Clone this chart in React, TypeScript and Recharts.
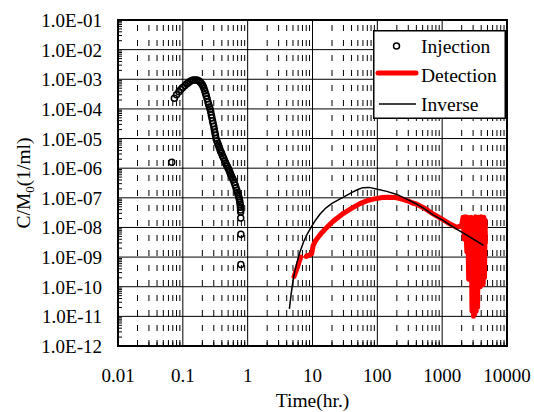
import {
  ComposedChart,
  Legend,
  Line,
  ReferenceArea,
  ReferenceLine,
  Scatter,
  XAxis,
  YAxis,
} from "recharts";

const FONT = '"Liberation Serif", "Times New Roman", Times, serif';

// axes
const xMajor = [0.01, 0.1, 1, 10, 100, 1000, 10000];
const xLabels = ["0.01", "0.1", "1", "10", "100", "1000", "10000"];
const yMajor = [1e-12, 1e-11, 1e-10, 1e-9, 1e-8, 1e-7, 1e-6, 1e-5, 1e-4, 1e-3, 1e-2, 1e-1];
const yLabels = [
  "1.0E-12", "1.0E-11", "1.0E-10", "1.0E-09", "1.0E-08", "1.0E-07",
  "1.0E-06", "1.0E-05", "1.0E-04", "1.0E-03", "1.0E-02", "1.0E-01",
];
const minorSteps = [2, 3, 4, 5, 6, 7, 8, 9];

// Injection (hr, 1/ml)
const injTime = [
  0.0675, 0.074, 0.08, 0.087, 0.093, 0.1, 0.108, 0.115, 0.122, 0.13, 0.138, 0.145,
  0.155, 0.165, 0.175, 0.184, 0.192, 0.2, 0.206, 0.212, 0.218, 0.224, 0.23, 0.237,
  0.244, 0.25, 0.257, 0.263, 0.269, 0.275, 0.281, 0.287, 0.293, 0.3, 0.306, 0.312,
  0.318, 0.325, 0.335, 0.345, 0.355, 0.365, 0.375, 0.385, 0.397, 0.41, 0.425, 0.44,
  0.455, 0.47, 0.485, 0.5, 0.515, 0.53, 0.545, 0.56, 0.58, 0.6, 0.62, 0.64, 0.66,
  0.68, 0.695, 0.71, 0.725, 0.74, 0.75, 0.76, 0.768, 0.772, 0.776, 0.78, 0.782,
  0.785, 0.785,
];
const injConc = [
  1.6e-6, 2.3e-4, 3.0e-4, 3.8e-4, 4.5e-4, 5.3e-4, 6.2e-4, 7.0e-4, 7.7e-4, 8.5e-4, 9.1e-4, 9.4e-4,
  9.5e-4, 9.4e-4, 9.0e-4, 8.3e-4, 7.3e-4, 6.5e-4, 5.7e-4, 4.9e-4, 4.0e-4, 3.3e-4, 2.8e-4, 2.2e-4,
  1.7e-4, 1.4e-4, 1.15e-4, 1.0e-4, 8.0e-5, 6.2e-5, 5.0e-5, 4.0e-5, 3.2e-5, 2.6e-5, 2.0e-5, 1.6e-5,
  1.3e-5, 1.0e-5, 8.3e-6, 7.0e-6, 5.9e-6, 5.0e-6, 4.2e-6, 3.6e-6, 3.1e-6, 2.6e-6, 2.2e-6, 1.8e-6,
  1.5e-6, 1.3e-6, 1.15e-6, 1.0e-6, 8.6e-7, 7.5e-7, 6.4e-7, 5.5e-7, 4.7e-7, 4.0e-7, 3.3e-7, 2.7e-7, 2.2e-7,
  1.8e-7, 1.5e-7, 1.3e-7, 1.1e-7, 9.5e-8, 8.2e-8, 7.0e-8, 5.8e-8, 4.8e-8, 3.9e-8, 3.3e-8, 2.1e-8,
  5.9e-9, 5.6e-10,
];

// Detection (null = gap in record)
const detTime = [
  5.2, 5.5, 5.9, 6.3, 6.6, 7.3,
  8.0, 8.6, 9.2, 9.7, 10.2, 11, 12.5, 14, 16.6, 20, 25, 30, 40, 54, 70, 90, 120, 150,
  190, 240, 300, 340, 400, 550, 735, 1000, 1330, 1700, 2000,
  2100, 2200, 2300, 2400, 2480, 2560, 2640, 2720, 2800, 2880, 2960, 3040, 3120, 3200,
  3280, 3360, 3440, 3520, 3600, 3700, 3800, 3900, 4000, 4100, 4200, 4300, 4400, 4500,
  4600, 4650,
];
const detConc = [
  2.2e-10, 3.2e-10, 4.8e-10, 7.5e-10, 1.0e-9, null,
  1.05e-9, 1.15e-9, 1.2e-9, 1.3e-9, 2.4e-9, 3.4e-9, 5.0e-9, 6.8e-9, 1.0e-8, 1.5e-8, 2.2e-8, 3.0e-8, 4.4e-8, 6.4e-8, 8.0e-8, 9.2e-8, 1.02e-7, 1.05e-7,
  1.02e-7, 9.0e-8, 7.8e-8, 6.8e-8, 6.2e-8, 4.3e-8, 2.8e-8, 1.9e-8, 1.3e-8, 1.0e-8, 1.2e-8,
  2.2e-8, 4e-9, 2.3e-8, 1.5e-9, 2.2e-8, 1.8e-10, 2.0e-8, 2.0e-10, 2.2e-8, 1.5e-11, 2.0e-8, 1.0e-11, 2.1e-8, 1.2e-11,
  2.3e-8, 1.5e-11, 1.8e-8, 2.0e-11, 2.2e-8, 1.5e-10, 2.2e-8, 1.0e-10, 2.3e-8, 1.6e-10, 2.0e-8, 1.2e-10, 2.2e-8, 2.0e-10,
  1.8e-8, 3e-9,
];

// Inverse model
const invTime = [
  4.4, 4.7, 5.1, 5.7, 6.4, 7.3, 8.3, 9.5, 11, 13, 16, 20, 25, 30, 40, 50, 60, 75,
  100, 140, 200, 300, 400, 550, 735, 1000, 1330, 1800, 2400, 3300, 4350,
];
const invConc = [
  1.8e-11, 6e-11, 2.1e-10, 6e-10, 1.5e-9, 3.3e-9, 6e-9, 1e-8, 1.7e-8, 2.8e-8, 4.5e-8, 6.5e-8, 8.5e-8, 1.05e-7, 1.5e-7, 1.9e-7, 2.2e-7, 2.25e-7,
  1.95e-7, 1.65e-7, 1.3e-7, 8.5e-8, 6.2e-8, 4.1e-8, 2.6e-8, 1.8e-8, 1.2e-8, 8e-9, 5.5e-9, 3.6e-9, 2.5e-9,
];

const injection = injTime.map((t, i) => ({ t, c: injConc[i] }));
const detection = detTime.map((t, i) => ({ t, c: detConc[i] }));
const inverse = invTime.map((t, i) => ({ t, c: invConc[i] }));

const xMinor = xMajor.slice(0, -1).flatMap((d) => minorSteps.map((m) => m * d));
const yMinor = yMajor.slice(0, -1).flatMap((d) => minorSteps.map((m) => m * d));

const isMajor = (v: number) => Math.abs(Math.log10(v) - Math.round(Math.log10(v))) < 1e-6;

const XTick = ({ x, y, payload }: any) => {
  const v = payload.value;
  if (isMajor(v)) {
    const idx = xMajor.findIndex((m) => Math.abs(Math.log10(m) - Math.log10(v)) < 1e-6);
    return (
      <text x={x} y={y + 36} textAnchor="middle" fontFamily={FONT} fontSize={19} fill="#000">
        {xLabels[idx]}
      </text>
    );
  }
  return <line x1={x} x2={x} y1={y} y2={y - 4} stroke="#000" strokeWidth={1} />;
};

const YTick = ({ x, y, payload }: any) => {
  const v = payload.value;
  if (isMajor(v)) {
    const idx = yMajor.findIndex((m) => Math.abs(Math.log10(m) - Math.log10(v)) < 1e-6);
    return (
      <text x={x - 16} y={y + 7} textAnchor="end" fontFamily={FONT} fontSize={19} fill="#000">
        {yLabels[idx]}
      </text>
    );
  }
  return <line x1={x} x2={x + 4} y1={y} y2={y} stroke="#000" strokeWidth={1} />;
};

const LegendBox = () => (
  <svg width={133} height={89} style={{ display: "block" }}>
    <rect x={0.75} y={0.75} width={131.5} height={87.5} fill="#fff" stroke="#000" strokeWidth={1.5} />
    <circle cx={23.5} cy={16} r={3} fill="none" stroke="#000" strokeWidth={1.5} />
    <text x={48} y={22.5} fontFamily={FONT} fontSize={19.5} fill="#000">Injection</text>
    <line x1={5} x2={43} y1={43} y2={43} stroke="#ff0000" strokeWidth={5} strokeLinecap="round" />
    <text x={48} y={51.5} fontFamily={FONT} fontSize={19.5} fill="#000">Detection</text>
    <line x1={6} x2={43} y1={74} y2={74} stroke="#000" strokeWidth={1.5} />
    <text x={48} y={81} fontFamily={FONT} fontSize={19.5} fill="#000">Inverse</text>
  </svg>
);

export default function App() {
  return (
    <div style={{ position: "absolute", left: 0, top: 0 }}>
      <ComposedChart width={534} height={412} margin={{ top: 20, right: 27, bottom: 0, left: 0 }}>
        <XAxis
          dataKey="t"
          type="number"
          scale="log"
          domain={[0.01, 10000]}
          allowDataOverflow
          ticks={[...xMajor, ...xMinor]}
          interval={0}
          height={66}
          tickSize={0}
          tickMargin={0}
          axisLine={false}
          tickLine={false}
          tick={XTick}
          label={{
            content: ({ viewBox }: any) => (
              <text
                x={viewBox.x + viewBox.width / 2}
                y={viewBox.y + viewBox.height - 5}
                textAnchor="middle"
                fontFamily={FONT}
                fontSize={19.5}
                fill="#000"
              >
                Time(hr.)
              </text>
            ),
          }}
        />
        <YAxis
          dataKey="c"
          type="number"
          scale="log"
          domain={[1e-12, 1e-1]}
          allowDataOverflow
          ticks={[...yMajor, ...yMinor]}
          interval={0}
          width={118}
          tickSize={0}
          tickMargin={0}
          axisLine={false}
          tickLine={false}
          tick={YTick}
          label={{
            content: ({ viewBox }: any) => {
              const cx = 30;
              const cy = viewBox.y + viewBox.height / 2;
              return (
                <text
                  x={cx}
                  y={cy}
                  transform={`rotate(-90 ${cx} ${cy})`}
                  textAnchor="middle"
                  fontFamily={FONT}
                  fontSize={19.5}
                  fill="#000"
                >
                  C/M
                  <tspan fontSize={13} dy={4}>0</tspan>
                  <tspan dy={-4}>(1/ml)</tspan>
                </text>
              );
            },
          }}
        />

        {xMinor.map((v) => (
          <ReferenceLine key={`xm${v}`} x={v} stroke="#000" strokeWidth={1} strokeDasharray="6 9" />
        ))}
        {xMajor.map((v) => (
          <ReferenceLine key={`xM${v}`} x={v} stroke="#000" strokeWidth={1} />
        ))}
        {yMajor.map((v) => (
          <ReferenceLine key={`yM${v}`} y={v} stroke="#000" strokeWidth={1} />
        ))}
        <ReferenceArea
          x1={0.01}
          x2={10000}
          y1={1e-12}
          y2={1e-1}
          fill="none"
          fillOpacity={0}
          stroke="#000"
          strokeWidth={2}
        />

        <Line
          data={detection}
          dataKey="c"
          stroke="#ff0000"
          strokeWidth={5}
          strokeLinejoin="round"
          strokeLinecap="round"
          dot={false}
          connectNulls={false}
          isAnimationActive={false}
          type="linear"
        />
        <Line
          data={inverse}
          dataKey="c"
          stroke="#000"
          strokeWidth={1.5}
          dot={false}
          isAnimationActive={false}
          type="linear"
        />
        <Scatter
          data={injection}
          dataKey="c"
          isAnimationActive={false}
          shape={(p: any) => (
            <circle cx={p.cx} cy={p.cy} r={3} fill="none" stroke="#000" strokeWidth={1.5} />
          )}
        />
        <Legend
          layout="vertical"
          align="center"
          verticalAlign="middle"
          wrapperStyle={{ left: 373, top: 30, width: 133, height: 89 }}
          content={() => <LegendBox />}
        />
      </ComposedChart>
    </div>
  );
}
